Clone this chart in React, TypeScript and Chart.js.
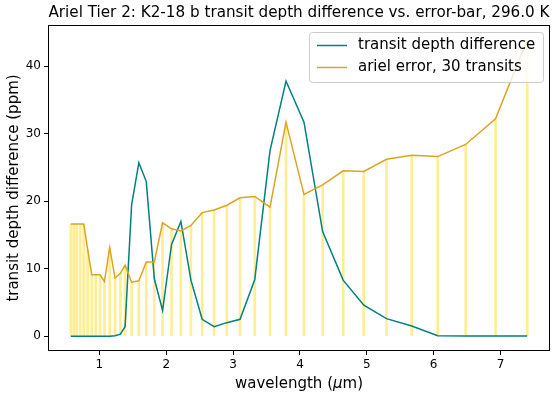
import React, { useEffect, useRef } from "react";
import { Chart, registerables } from "chart.js";

Chart.register(...registerables);

// wavelength bins (micron)
const wavelength = [
  0.572, 0.616, 0.661, 0.712, 0.766, 0.825, 0.885, 0.945, 1.01, 1.075, 1.154,
  1.234, 1.313, 1.384, 1.482, 1.59, 1.701, 1.821, 1.945, 2.079, 2.219, 2.369,
  2.537, 2.716, 2.906, 3.104, 3.324, 3.552, 3.791, 4.06, 4.339, 4.646, 4.955,
  5.294, 5.672, 6.06, 6.478, 6.925, 7.399,
];

// transit depth difference (ppm)
const depthDifference = [
  0, 0, 0, 0, 0, 0, 0, 0, 0, 0, 0,
  0.05, 0.3, 1.4, 19.5, 25.7, 22.9, 8.5, 3.8, 13.6, 17.0, 8.3,
  2.5, 1.4, 2.0, 2.5, 8.4, 27.5, 37.8, 31.7, 15.5, 8.3, 4.6,
  2.6, 1.5, 0.05, 0.02, 0.02, 0.02,
];

// ariel error, 30 transits (ppm)
const arielError = [
  16.6, 16.6, 16.6, 16.6, 16.6, 12.8, 9.1, 9.1, 9.1, 8.1, 13.1,
  8.6, 9.3, 10.5, 8.0, 8.2, 11.0, 11.0, 16.8, 15.9, 15.6, 16.4,
  18.3, 18.7, 19.4, 20.5, 20.7, 19.1, 31.7, 21.0, 22.4, 24.5, 24.4,
  26.2, 26.8, 26.6, 28.4, 32.2, 43.9,
];

const xTicks = [1, 2, 3, 4, 5, 6, 7];
const yTicks = [0, 10, 20, 30, 40];

const TITLE = "Ariel Tier 2: K2-18 b transit depth difference vs. error-bar, 296.0 K";
const Y_LABEL = "transit depth difference (ppm)";
const LEGEND_LABELS = ["transit depth difference", "ariel error, 30 transits"];
const FONT = "'DejaVu Sans', sans-serif";
const TEAL = "#008080";
const GOLD = "#DAA520";

export default function App() {
  const ref = useRef<HTMLCanvasElement>(null);

  useEffect(() => {
    document.body.style.margin = "0";
    const canvas = ref.current!;

    const decor = {
      id: "decor",
      afterDraw(chart: any) {
        const { ctx, chartArea: a } = chart;
        ctx.save();
        // spines
        ctx.strokeStyle = "#000";
        ctx.lineWidth = 1;
        ctx.strokeRect(Math.round(a.left) + 0.5, Math.round(a.top) + 0.5, Math.round(a.right - a.left) - 1, Math.round(a.bottom - a.top) - 1);

        // title
        ctx.fillStyle = "#000";
        ctx.font = `15.2px ${FONT}`;
        ctx.textAlign = "center";
        ctx.textBaseline = "middle";
        ctx.fillText(TITLE, (a.left + a.right) / 2, 13);

        // x label with italic mu
        const parts: [string, string][] = [
          ["wavelength (", `15px ${FONT}`],
          ["\u03bc", `italic 15px ${FONT}`],
          ["m)", `15px ${FONT}`],
        ];
        let total = 0;
        const widths = parts.map(([t, f]) => {
          ctx.font = f;
          const w = ctx.measureText(t).width;
          total += w;
          return w;
        });
        let x = (a.left + a.right) / 2 - total / 2;
        ctx.textAlign = "left";
        parts.forEach(([t, f], i) => {
          ctx.font = f;
          ctx.fillText(t, x, 384);
          x += widths[i];
        });

        // y label
        ctx.save();
        ctx.translate(14, (a.top + a.bottom) / 2);
        ctx.rotate(-Math.PI / 2);
        ctx.textAlign = "center";
        ctx.font = `15px ${FONT}`;
        ctx.fillText(Y_LABEL, 0, 0);
        ctx.restore();

        // legend
        const lx = 309.5, ly = 32.5, lw = 234, lh = 50, r = 3;
        ctx.beginPath();
        ctx.moveTo(lx + r, ly);
        ctx.lineTo(lx + lw - r, ly);
        ctx.quadraticCurveTo(lx + lw, ly, lx + lw, ly + r);
        ctx.lineTo(lx + lw, ly + lh - r);
        ctx.quadraticCurveTo(lx + lw, ly + lh, lx + lw - r, ly + lh);
        ctx.lineTo(lx + r, ly + lh);
        ctx.quadraticCurveTo(lx, ly + lh, lx, ly + lh - r);
        ctx.lineTo(lx, ly + r);
        ctx.quadraticCurveTo(lx, ly, lx + r, ly);
        ctx.closePath();
        ctx.fillStyle = "rgba(255,255,255,0.8)";
        ctx.fill();
        ctx.strokeStyle = "#cccccc";
        ctx.lineWidth = 1;
        ctx.stroke();

        const colors = [TEAL, GOLD];
        const rows = [45.5, 67.5];
        ctx.font = `15px ${FONT}`;
        ctx.textBaseline = "middle";
        ctx.textAlign = "left";
        rows.forEach((yy, i) => {
          ctx.strokeStyle = colors[i];
          ctx.lineWidth = 1.5;
          ctx.beginPath();
          ctx.moveTo(317, yy);
          ctx.lineTo(347, yy);
          ctx.stroke();
          ctx.fillStyle = "#000";
          ctx.fillText(LEGEND_LABELS[i], 358, yy);
        });
        ctx.restore();
      },
    };

    const tickFont = { family: FONT, size: 12 };
    const grid = {
      display: true,
      drawOnChartArea: false,
      drawTicks: true,
      tickLength: 4,
      color: "#000",
      lineWidth: 1,
      offset: false,
    };

    const chart = new Chart(canvas, {
      type: "line",
      data: {
        datasets: [
          {
            type: "line",
            label: LEGEND_LABELS[0],
            data: wavelength.map((w, i) => ({ x: w, y: depthDifference[i] })),
            borderColor: TEAL,
            borderWidth: 1.5,
            pointRadius: 0,
            tension: 0,
            order: 1,
          },
          {
            type: "line",
            label: LEGEND_LABELS[1],
            data: wavelength.map((w, i) => ({ x: w, y: arielError[i] })),
            borderColor: GOLD,
            borderWidth: 1.5,
            pointRadius: 0,
            tension: 0,
            order: 0,
          },
          {
            type: "bar",
            label: "error bars",
            data: wavelength.map((w, i) => ({ x: w, y: [0, arielError[i]] })),
            backgroundColor: "rgba(255,215,0,0.42)",
            borderWidth: 0,
            barThickness: 2,
            grouped: false,
            order: 2,
          },
        ] as any,
      },
      options: {
        responsive: false,
        animation: false,
        devicePixelRatio: 1,
        layout: { padding: { left: 0, right: 7, top: 25, bottom: 0 } },
        plugins: {
          legend: { display: false },
          title: { display: false },
          tooltip: { enabled: false },
        },
        scales: {
          x: {
            type: "linear",
            min: 0.231,
            max: 7.74,
            offset: false,
            afterFit: (s: any) => {
              s.height = 50;
            },
            afterBuildTicks: (s: any) => {
              s.ticks = xTicks.map((v) => ({ value: v }));
            },
            grid,
            border: { display: false },
            ticks: { font: tickFont, color: "#000", padding: 3, maxRotation: 0 },
          },
          y: {
            type: "linear",
            min: -2.2,
            max: 46.1,
            afterFit: (s: any) => {
              s.width = 48;
            },
            afterBuildTicks: (s: any) => {
              s.ticks = yTicks.map((v) => ({ value: v }));
            },
            grid,
            border: { display: false },
            ticks: { font: tickFont, color: "#000", padding: 3 },
          },
        },
      } as any,
      plugins: [decor],
    });

    return () => chart.destroy();
  }, []);

  return (
    <canvas
      ref={ref}
      width={557}
      height={401}
      style={{ position: "absolute", left: 0, top: 0, width: 557, height: 401, display: "block" }}
    />
  );
}
